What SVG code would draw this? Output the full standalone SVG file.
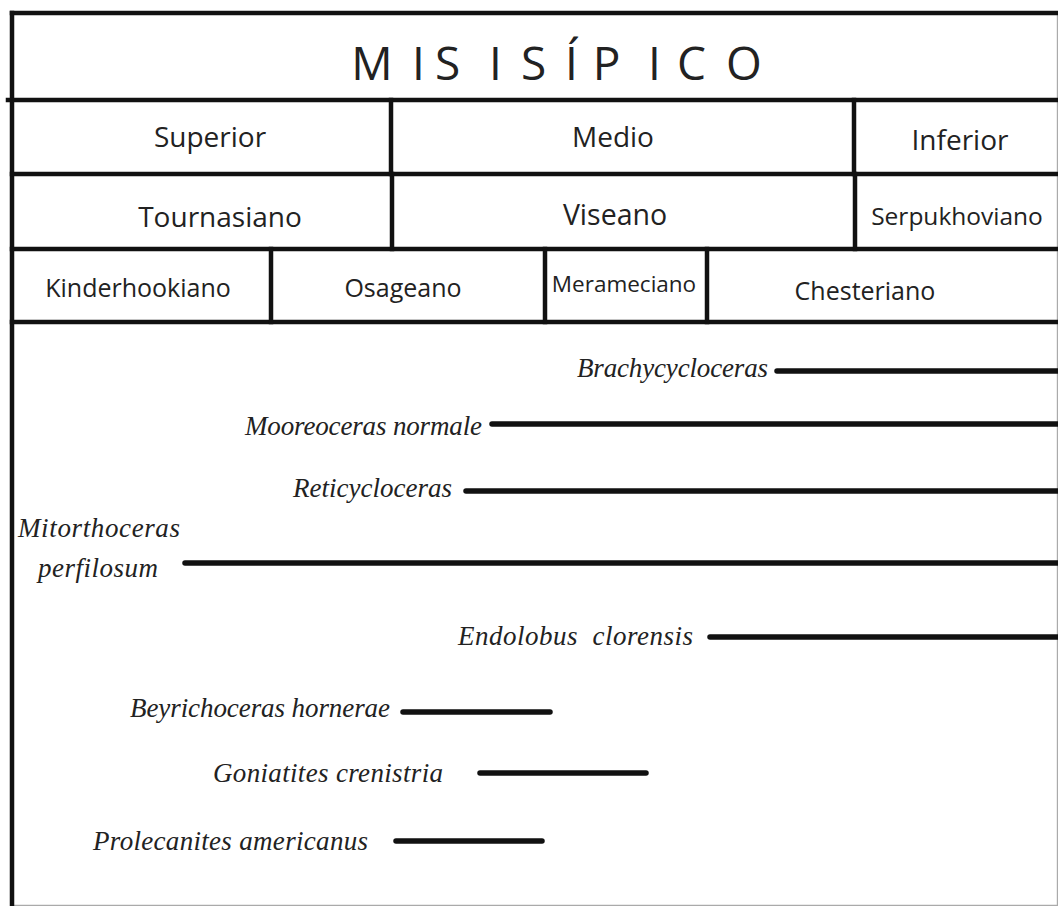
<svg xmlns="http://www.w3.org/2000/svg" width="1058" height="906" viewBox="0 0 1058 906">
<style>
.grid{stroke:#111;stroke-width:4.5;fill:none;stroke-linecap:square}
.edge{stroke:#aaa;stroke-width:1.2;fill:none}
.hdr{font-family:"Open Sans","Liberation Sans",sans-serif;fill:#222;text-anchor:middle}
.sp{font-family:"Liberation Serif","DejaVu Serif",serif;font-style:italic;font-size:27px;fill:#222}
.rng{stroke:#111;stroke-width:5.5;stroke-linecap:round;fill:none}
</style>
<rect x="0" y="0" width="1058" height="906" fill="#fff"/>
<g id="frame">
<line class="edge" x1="1057.4" y1="13" x2="1057.4" y2="906"/>
<line class="edge" x1="12" y1="905.3" x2="1058" y2="905.3"/>
<line class="grid" x1="12" y1="13" x2="1058" y2="13"/>
<line class="grid" x1="12" y1="13" x2="12" y2="906"/>
<line class="grid" x1="8" y1="100" x2="1058" y2="100"/>
<line class="grid" x1="12" y1="174" x2="1058" y2="174"/>
<line class="grid" x1="12" y1="249" x2="1058" y2="249"/>
<line class="grid" x1="12" y1="322" x2="1058" y2="322"/>
</g>
<g id="title">
<text class="hdr" font-size="46" y="80" x="372 418.5 447.5 495.5 533.5 571.5 606.5 654.5 691.5 744">MISISÍPICO</text>
</g>
<g id="series-superior"><text class="hdr" font-size="28" x="210" y="147">Superior</text></g>
<g id="series-medio"><line class="grid" x1="391" y1="100" x2="391" y2="174"/><text class="hdr" font-size="28" x="613" y="147">Medio</text></g>
<g id="series-inferior"><line class="grid" x1="854" y1="100" x2="854" y2="174"/><text class="hdr" font-size="28" x="960" y="150">Inferior</text></g>
<g id="stage-tournasiano"><text class="hdr" font-size="28" x="220" y="227">Tournasiano</text></g>
<g id="stage-viseano"><line class="grid" x1="392" y1="174" x2="392" y2="249"/><text class="hdr" font-size="28.5" x="615" y="225">Viseano</text></g>
<g id="stage-serpukhoviano"><line class="grid" x1="855" y1="174" x2="855" y2="249"/><text class="hdr" font-size="24.5" x="957" y="225">Serpukhoviano</text></g>
<g id="na-kinderhookiano"><text class="hdr" font-size="25" x="138" y="297">Kinderhookiano</text></g>
<g id="na-osageano"><line class="grid" x1="271" y1="249" x2="271" y2="322"/><text class="hdr" font-size="25" x="403" y="297">Osageano</text></g>
<g id="na-merameciano"><line class="grid" x1="545" y1="249" x2="545" y2="322"/><text class="hdr" font-size="22.5" x="624" y="292">Merameciano</text></g>
<g id="na-chesteriano"><line class="grid" x1="707" y1="249" x2="707" y2="322"/><text class="hdr" font-size="25" x="865" y="300">Chesteriano</text></g>
<g id="taxa">
<text class="sp" x="768" y="377" text-anchor="end" textLength="191">Brachycycloceras</text>
<text class="sp" x="482" y="435" text-anchor="end" textLength="237">Mooreoceras normale</text>
<text class="sp" x="452" y="497" text-anchor="end" textLength="159">Reticycloceras</text>
<text class="sp" x="99" y="537" text-anchor="middle" textLength="162">Mitorthoceras</text>
<text class="sp" x="98" y="577" text-anchor="middle" textLength="120">perfilosum</text>
<text class="sp" x="693" y="645" text-anchor="end" textLength="235" xml:space="preserve">Endolobus  clorensis</text>
<text class="sp" x="390" y="717" text-anchor="end" textLength="260">Beyrichoceras hornerae</text>
<text class="sp" x="443" y="782" text-anchor="end" textLength="230">Goniatites crenistria</text>
<text class="sp" x="368" y="850" text-anchor="end" textLength="275">Prolecanites americanus</text>
</g>
<g id="connectors">
<line class="rng" x1="777" y1="371" x2="1062" y2="371"/>
<line class="rng" x1="492" y1="424" x2="1062" y2="424"/>
<line class="rng" x1="466" y1="491" x2="1062" y2="491"/>
<line class="rng" x1="185" y1="563" x2="1062" y2="563"/>
<line class="rng" x1="710" y1="637" x2="1062" y2="637"/>
<line class="rng" x1="403" y1="712" x2="550" y2="712"/>
<line class="rng" x1="480" y1="773" x2="646" y2="773"/>
<line class="rng" x1="396" y1="841" x2="542" y2="841"/>
</g>
</svg>
